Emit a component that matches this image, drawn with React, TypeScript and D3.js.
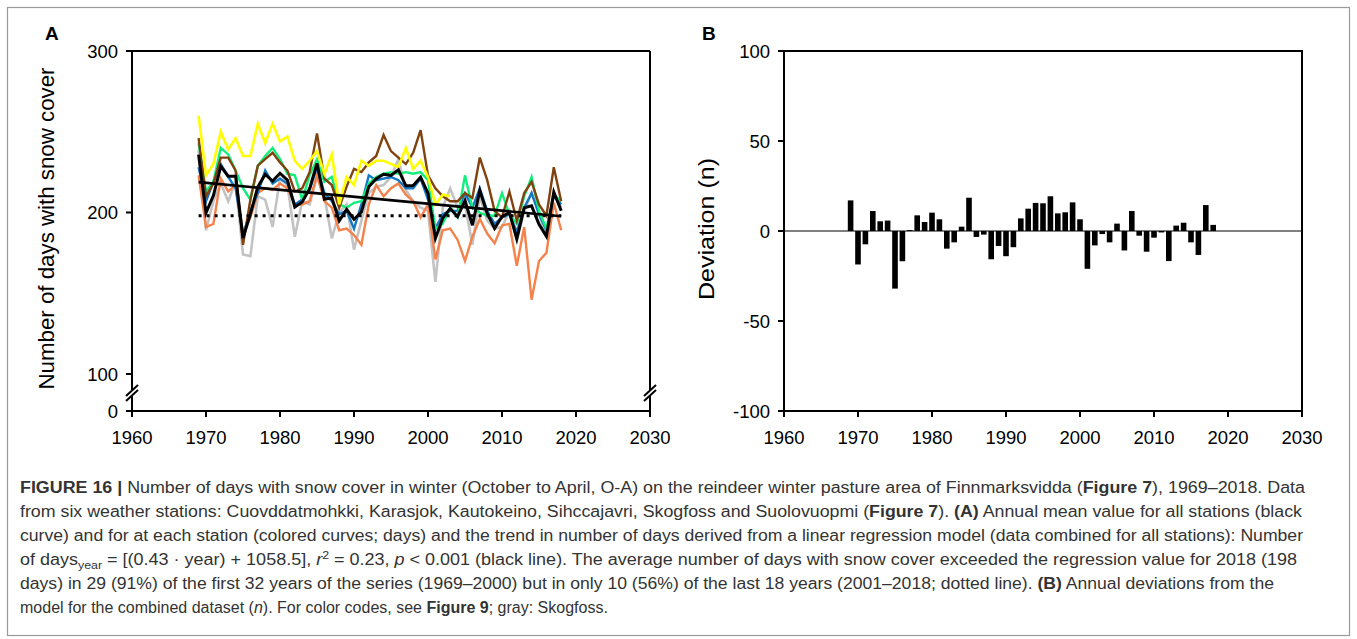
import React from 'react';
import * as d3 from 'd3';

// ---------- data ----------
const years: number[] = d3.range(1969, 2019);
const yellowYears: number[] = d3.range(1969, 2004);

const meanDays = [235.8, 199.8, 210.5, 228.6, 222.5, 222.4, 184.2, 199.0, 215.9, 223.6,
  219.5, 224.3, 220.1, 203.4, 206.5, 214.7, 230.4, 208.2, 209.1, 194.9,
  201.9, 195.8, 200.3, 215.9, 220.9, 223.7, 223.0, 226.5, 216.6, 216.7,
  221.8, 212.0, 184.0, 196.6, 202.5, 197.5, 207.4, 192.1, 213.6, 199.4,
  190.1, 197.5, 200.0, 183.6, 202.9, 204.1, 192.7, 185.3, 212.6, 201.1];

const yellowDays = [260, 223, 230, 250, 239, 246, 235, 235, 255, 243,
  255, 244, 247, 232, 227, 232, 238, 224, 236, 205,
  222, 217, 232, 229, 232, 232, 230, 228, 240, 227,
  232, 222, 205, 211, 210];

const brownDays = [246, 210, 218, 234, 234, 226, 180, 208, 229, 233,
  237, 231, 226, 213, 215, 225, 249, 221, 217, 203,
  216, 227, 225, 231, 235, 248, 238, 234, 230, 237,
  251, 223, 215, 210, 207, 207, 212, 209, 234, 220,
  201, 197, 213, 195, 212, 219, 205, 198, 228, 207];

const greenDays = [243, 213, 219, 240, 236, 226, 215, 208, 229, 235,
  240, 233, 224, 223, 208, 223, 233, 219, 222, 205,
  203, 206, 207, 218, 222, 224, 225, 224, 225, 224,
  225, 220, 190, 193, 203, 197, 223, 203, 200, 198,
  198, 212, 199, 193, 210, 222, 201, 190, 211, 207];

const blueDays = [228, 207, 219, 230, 222, 215, 186, 201, 212, 226,
  218, 221, 218, 205, 208, 214, 228, 212, 207, 199,
  201, 190, 205, 223, 220, 221, 222, 220, 215, 215,
  221, 208, 190, 199, 201, 201, 212, 203, 215, 201,
  193, 197, 199, 188, 203, 212, 199, 189, 210, 205];

const orangeDays = [223, 191, 193, 221, 213, 217, 188, 197, 212, 215,
  214, 218, 215, 205, 205, 207, 223, 207, 203, 189,
  190, 186, 180, 205, 217, 210, 215, 218, 211, 207,
  197, 205, 171, 189, 190, 183, 170, 185, 196, 187,
  181, 192, 193, 167, 191, 146, 170, 175, 206, 189];

const grayDays = [239, 189, 207, 218, 207, 219, 174, 173, 210, 208,
  191, 221, 217, 185, 207, 205, 222, 210, 184, 200,
  205, 177, 195, 212, 216, 217, 222, 233, 214, 207,
  203, 201, 157, 203, 215, 203, 205, 180, 210, 195,
  190, 191, 201, 183, 201, 212, 199, 185, 212, 203];

const deviation = [17, -18.6, -7.4, 11.1, 5.4, 5.8, -32, -16.8, 0.5, 8.7,
  5, 10.2, 6.5, -9.8, -6.3, 2.4, 18.5, -3.3, -2, -15.7,
  -8.3, -14, -9, 7, 12.4, 15.6, 15.4, 19.3, 9.8, 10.4,
  15.9, 6.5, -21, -8, -1.7, -6.3, 4.1, -10.8, 11.1, -2.6,
  -11.5, -3.7, -0.8, -16.7, 3, 4.6, -6.3, -13.3, 14.4, 3.4];

const trendYears = [1969, 2018];
const trendDays = [218.8, 197.7];
const refYears = [1969, 2018];
const refDays = [198, 198];

const xTicks = [1960, 1970, 1980, 1990, 2000, 2010, 2020, 2030];
const yTicksA = [0, 100, 200, 300];
const yTicksB = [-100, -50, 0, 50, 100];

type Seg = { t: string; b?: boolean; i?: boolean; sub?: boolean; sup?: boolean };
const captionLines: Seg[][] = [
  [{ t: 'FIGURE 16 | ', b: true }, { t: 'Number of days with snow cover in winter (October to April, O-A) on the reindeer winter pasture area of Finnmarksvidda (' }, { t: 'Figure 7', b: true }, { t: '), 1969–2018. Data' }],
  [{ t: 'from six weather stations: Cuovddatmohkki, Karasjok, Kautokeino, Sihccajavri, Skogfoss and Suolovuopmi (' }, { t: 'Figure 7', b: true }, { t: '). ' }, { t: '(A)', b: true }, { t: ' Annual mean value for all stations (black' }],
  [{ t: 'curve) and for at each station (colored curves; days) and the trend in number of days derived from a linear regression model (data combined for all stations): Number' }],
  [{ t: 'of days' }, { t: 'year', sub: true }, { t: ' = [(0.43 · year) + 1058.5], ' }, { t: 'r', i: true }, { t: '2', sup: true }, { t: ' = 0.23, ' }, { t: 'p', i: true }, { t: ' < 0.001 (black line). The average number of days with snow cover exceeded the regression value for 2018 (198' }],
  [{ t: 'days) in 29 (91%) of the first 32 years of the series (1969–2000) but in only 10 (56%) of the last 18 years (2001–2018; dotted line). ' }, { t: '(B)', b: true }, { t: ' Annual deviations from the' }],
  [{ t: 'model for the combined dataset (' }, { t: 'n', i: true }, { t: '). For color codes, see ' }, { t: 'Figure 9', b: true }, { t: '; gray: Skogfoss.' }],
];
const captionWidths = [1285, 1282, 1283, 1277, 1254, 0];

const FONT = "'Liberation Sans', Arial, Helvetica, sans-serif";

export default function App() {
  const W = 1357, H = 639;
  const xA = d3.scaleLinear().domain([1960, 2030]).range([132, 650]);
  const yA = d3.scaleLinear().domain([0, 100, 300]).range([411, 374, 51]);
  const xB = d3.scaleLinear().domain([1960, 2030]).range([784, 1302]);
  const yB = d3.scaleLinear().domain([-100, 100]).range([411, 51]);

  const mkLine = (xs: number[], vals: number[]) =>
    d3.line<number>().x((_, i) => xA(xs[i])).y((d) => yA(d))(vals) || '';

  const series = [
    { vals: grayDays, xs: years, color: '#c3c3c3', w: 2.6 },
    { vals: orangeDays, xs: years, color: '#f5814b', w: 2.4 },
    { vals: blueDays, xs: years, color: '#1377c4', w: 2.4 },
    { vals: greenDays, xs: years, color: '#10ef7c', w: 2.4 },
    { vals: brownDays, xs: years, color: '#80420f', w: 2.4 },
    { vals: yellowDays, xs: yellowYears, color: '#ffff00', w: 2.6 },
  ];

  const barW = 5.6;
  const axisW = 2;

  const breakMark = (x: number, y: number) => (
    <g>
      <polygon points={`${x - 6},${y + 5} ${x + 6},${y - 6} ${x + 6},${y - 1} ${x - 6},${y + 10}`} fill="#fff" />
      <line x1={x - 6} y1={y + 5} x2={x + 6} y2={y - 6} stroke="#000" strokeWidth={2} />
      <line x1={x - 6} y1={y + 10} x2={x + 6} y2={y - 1} stroke="#000" strokeWidth={2} />
    </g>
  );

  return (
    <svg width={W} height={H} style={{ position: 'absolute', left: 0, top: 0, background: '#fff' }} fontFamily={FONT}>
      <rect x={0} y={0} width={W} height={H} fill="#fff" />
      <rect x={7.5} y={7.5} width={1342} height={628} fill="none" stroke="#9a9a9a" strokeWidth={1.2} />

      {/* ---------- Panel A ---------- */}
      <text x={45} y={40} fontSize={19} fontWeight="bold">A</text>
      <text transform={`translate(54,${228.5}) rotate(-90)`} textAnchor="middle" fontSize={21.5}
        textLength={322} lengthAdjust="spacingAndGlyphs">Number of days with snow cover</text>

      {series.map((s, k) => (
        <path key={k} d={mkLine(s.xs, s.vals)} fill="none" stroke={s.color} strokeWidth={s.w} strokeLinejoin="miter" />
      ))}
      <path d={mkLine(years, meanDays)} fill="none" stroke="#000" strokeWidth={3} />
      <path d={mkLine(trendYears, trendDays)} fill="none" stroke="#000" strokeWidth={2.6} />
      <path d={mkLine(refYears, refDays)} fill="none" stroke="#000" strokeWidth={3} strokeDasharray="3,5" />

      {/* frame of A */}
      <line x1={xA(1960)} y1={yA(300)} x2={xA(2030)} y2={yA(300)} stroke="#000" strokeWidth={axisW} />
      <line x1={xA(1960)} y1={yA(300)} x2={xA(1960)} y2={yA(0)} stroke="#000" strokeWidth={axisW} />
      <line x1={xA(2030)} y1={yA(300)} x2={xA(2030)} y2={yA(0)} stroke="#000" strokeWidth={axisW} />
      <line x1={xA(1960) - 1} y1={yA(0)} x2={xA(2030) + 1} y2={yA(0)} stroke="#000" strokeWidth={axisW} />
      {yTicksA.map((t) => (
        <g key={t}>
          <line x1={xA(1960) - 6} x2={xA(1960)} y1={yA(t)} y2={yA(t)} stroke="#000" strokeWidth={axisW} />
          <text x={118} y={yA(t) + 6.5} textAnchor="end" fontSize={18.5}>{t}</text>
        </g>
      ))}
      {xTicks.map((t) => (
        <g key={t}>
          <line x1={xA(t)} x2={xA(t)} y1={yA(0)} y2={yA(0) + 6} stroke="#000" strokeWidth={axisW} />
          <text x={xA(t)} y={444} textAnchor="middle" fontSize={18.5}>{t}</text>
        </g>
      ))}
      {breakMark(xA(1960), 391)}
      {breakMark(xA(2030), 391)}

      {/* ---------- Panel B ---------- */}
      <text x={702} y={40} fontSize={19} fontWeight="bold">B</text>
      <text transform={`translate(714,${229}) rotate(-90)`} textAnchor="middle" fontSize={22.5}
        textLength={142} lengthAdjust="spacingAndGlyphs">Deviation (n)</text>

      {deviation.map((d, i) => (
        <rect key={i} x={xB(years[i]) - barW / 2} y={yB(Math.max(0, d))} width={barW}
          height={Math.abs(yB(d) - yB(0))} fill="#000" />
      ))}
      <line x1={xB(1960)} x2={xB(2030)} y1={yB(0)} y2={yB(0)} stroke="#000" strokeWidth={1.2} />

      <rect x={xB(1960)} y={yB(100)} width={xB(2030) - xB(1960)} height={yB(-100) - yB(100)} fill="none" stroke="#000" strokeWidth={axisW} />
      {yTicksB.map((t) => (
        <g key={t}>
          <line x1={xB(1960) - 6} x2={xB(1960)} y1={yB(t)} y2={yB(t)} stroke="#000" strokeWidth={axisW} />
          <text x={770} y={yB(t) + 6.5} textAnchor="end" fontSize={18.5}>{t}</text>
        </g>
      ))}
      {xTicks.map((t) => (
        <g key={t}>
          <line x1={xB(t)} x2={xB(t)} y1={yB(-100)} y2={yB(-100) + 6} stroke="#000" strokeWidth={axisW} />
          <text x={xB(t)} y={444} textAnchor="middle" fontSize={18.5}>{t}</text>
        </g>
      ))}

      {/* ---------- Caption ---------- */}
      {captionLines.map((segs, li) => (
        <text key={li} x={20} y={493 + li * 24} fontSize={16} fill="#333"
          textLength={captionWidths[li] || undefined}
          lengthAdjust={captionWidths[li] ? 'spacingAndGlyphs' : undefined}>
          {segs.map((s, si) => {
            const prev = si > 0 ? segs[si - 1] : null;
            let dy = 0;
            if (prev && prev.sub) dy -= 4;
            if (prev && prev.sup) dy += 6;
            if (s.sub) dy += 4;
            if (s.sup) dy -= 6;
            return (
              <tspan key={si} dy={dy || undefined} fontWeight={s.b ? 'bold' : undefined}
                fontStyle={s.i ? 'italic' : undefined} fontSize={s.sub || s.sup ? 11 : undefined}>
                {s.t}
              </tspan>
            );
          })}
        </text>
      ))}
    </svg>
  );
}
